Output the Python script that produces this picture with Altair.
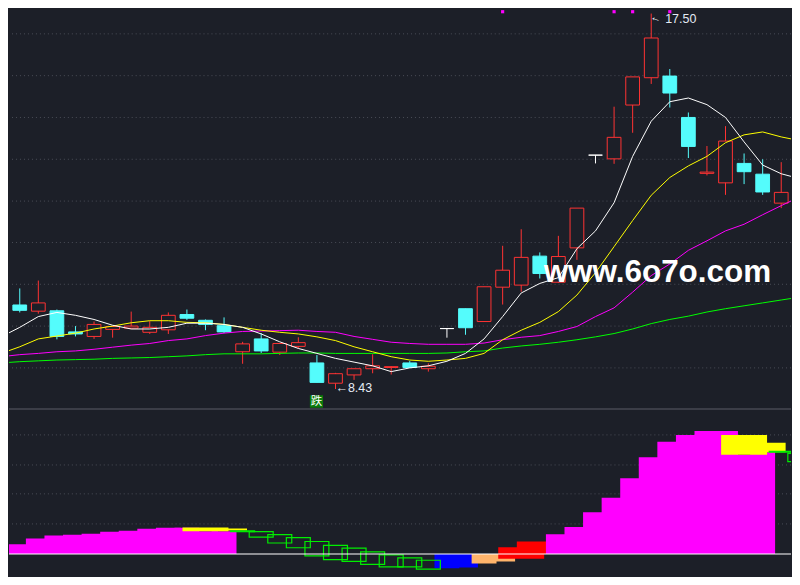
import altair as alt
import pandas as pd

# ---------------- colours ----------------
BG = "#1c1f28"
GRID = "#4a4d57"
SEP = "#464952"
UP = "#ff3333"
DOWN = "#54fcfc"
FLAT = "#ffffff"
C_MA5, C_MA10, C_MA20, C_MA60 = "#ffffff", "#ffff00", "#ff00ff", "#00ff00"
MAG, YEL, GRN, BLUE, ORANGE, RED = "#ff00ff", "#ffff00", "#00ee00", "#0000ff", "#ffb46b", "#ff0000"
LABEL = "#e4ebf5"

# ---------------- price data (candles) ----------------
idx = list(range(42))
open_ = [10.46, 10.31, 10.32, 9.81, 9.70, 9.87, 9.90, 9.80, 9.86, 10.23,
         10.09, 9.96, 9.33, 9.64, 9.32, 9.46, 9.06, 8.57, 8.77, 8.92,
         8.95, 9.06, 8.92, 9.89, 10.37, 10.06, 10.89, 10.94, 11.64, 11.01,
         11.84, 14.08, 13.99, 15.29, 15.95, 15.99, 14.99, 13.64, 13.41, 13.88,
         13.62, 12.92]
high = [10.86, 11.05, 10.35, 9.95, 10.06, 9.94, 10.30, 10.07, 10.28, 10.35,
        10.11, 10.16, 9.57, 9.78, 9.53, 9.68, 9.25, 8.82, 8.92, 9.27,
        8.98, 9.11, 9.05, 9.89, 10.37, 10.90, 11.89, 12.29, 11.73, 12.13,
        12.80, 14.08, 15.25, 15.97, 17.50, 16.16, 15.11, 14.30, 14.78, 14.12,
        13.98, 13.91]
low = [10.28, 10.25, 9.63, 9.70, 9.64, 9.67, 9.89, 9.76, 9.76, 10.10,
       9.85, 9.78, 9.04, 9.30, 9.25, 9.41, 8.59, 8.43, 8.65, 8.81,
       8.78, 8.95, 8.85, 9.67, 9.74, 10.06, 10.47, 10.78, 11.10, 10.99,
       11.55, 13.88, 13.87, 14.62, 15.80, 15.23, 14.01, 13.59, 13.12, 13.38,
       13.12, 12.80]
close = [10.33, 10.51, 9.70, 9.76, 9.99, 9.94, 9.95, 9.92, 10.21, 10.14,
         9.99, 9.81, 9.52, 9.35, 9.53, 9.55, 8.59, 8.80, 8.92, 8.99,
         8.97, 8.95, 8.98, 9.89, 9.91, 10.90, 11.30, 11.61, 11.22, 11.63,
         12.80, 14.08, 14.51, 15.97, 16.91, 15.58, 14.29, 13.67, 14.42, 13.68,
         13.19, 13.18]

# ---------------- moving averages (index -1 .. 42) ----------------
ma_idx = list(range(-1, 43))
ma5 = [9.69, 9.92, 10.18, 10.28, 10.21, 10.11, 9.97, 9.88, 9.88, 9.92, 10.02,
       10.02, 9.99, 9.92, 9.76, 9.57, 9.41, 9.29, 9.17, 9.08, 8.99, 8.85,
       8.94, 8.99, 9.10, 9.29, 9.64, 10.18, 10.75, 10.98, 11.12, 11.82,
       12.25, 12.93, 14.05, 14.90, 15.37, 15.46, 15.30, 14.99, 14.40, 13.84,
       13.63, 13.51]
ma10 = [9.29, 9.45, 9.64, 9.71, 9.78, 9.88, 9.95, 10.03, 10.08, 10.08, 10.04,
        10.03, 9.99, 9.92, 9.85, 9.80, 9.76, 9.69, 9.60, 9.45, 9.33, 9.21,
        9.13, 9.10, 9.13, 9.17, 9.29, 9.62, 9.85, 10.04, 10.30, 10.70,
        11.24, 11.87, 12.50, 13.11, 13.54, 13.82, 14.05, 14.38, 14.57, 14.64,
        14.52, 14.43]
ma20 = [9.21, 9.26, 9.29, 9.33, 9.35, 9.39, 9.44, 9.49, 9.53, 9.60, 9.64,
        9.72, 9.78, 9.82, 9.83, 9.84, 9.85, 9.82, 9.80, 9.70, 9.63, 9.56,
        9.53, 9.51, 9.51, 9.51, 9.54, 9.62, 9.68, 9.72, 9.82, 9.94,
        10.18, 10.39, 10.77, 11.17, 11.45, 11.78, 12.01, 12.25, 12.41, 12.64,
        12.86, 13.07]
ma60 = [9.06, 9.09, 9.11, 9.13, 9.14, 9.15, 9.17, 9.18, 9.19, 9.21, 9.23,
        9.26, 9.28, 9.28, 9.28, 9.29, 9.30, 9.30, 9.29, 9.29, 9.29, 9.29,
        9.29, 9.29, 9.30, 9.33, 9.35, 9.42, 9.47, 9.51, 9.56, 9.62,
        9.69, 9.77, 9.88, 10.01, 10.11, 10.19, 10.29, 10.37, 10.44, 10.51,
        10.58, 10.65]

grid_top = [17.01, 16.00, 14.99, 13.98, 12.97, 11.97, 10.96, 9.95, 8.94]
grid_bot = [1.01, 2.02, 2.99, 4.00]

# ---------------- lower indicator ----------------
mag_idx = [0, 1, 2, 3, 4, 5, 6, 7, 8, 9, 10, 11,
           29, 30, 31, 32, 33, 34, 35, 36, 37, 38, 39, 40]
mag_val = [0.33, 0.52, 0.62, 0.65, 0.68, 0.75, 0.78, 0.85, 0.88, 0.88, 0.76, 0.76,
           0.66, 0.91, 1.40, 1.89, 2.54, 3.25, 3.77, 4.00, 4.13, 4.13, 3.33, 3.42]
yel_idx = [10, 11, 39, 40]
yel_hi = [0.89, 0.86, 4.00, 3.74]
yel_lo = [0.76, 0.79, 3.33, 3.42]
box_idx = [12, 13, 14, 15, 16, 17, 18, 19, 20, 21, 22, 41, 42]
box_hi = [0.78, 0.75, 0.65, 0.55, 0.42, 0.29, 0.20, 0.07, -0.03, -0.13, -0.21, 3.45, 3.38]
box_lo = [0.75, 0.57, 0.37, 0.21, -0.06, -0.19, -0.25, -0.35, -0.43, -0.43, -0.51, 3.42, 3.10]
blue_idx = [23, 24]
blue_val = [-0.48, -0.45]
orange_idx = [25, 26]
orange_val = [-0.32, -0.25]
red_idx = [27, 28]
red_hi = [0.23, 0.42]
red_lo = [-0.16, 0.00]

signal_top_idx = [26, 32, 33, 35]
fall_idx = [16]
fall_text = ["跌"]
WATERMARK = "www.6o7o.com"

# ---------------- layout ----------------
W, HT, HB = 784, 402, 167
xs = alt.Scale(domain=[-0.579, 41.526], nice=False, zero=False)
ys_top = alt.Scale(domain=[7.930, 17.617], nice=False, zero=False)
ys_bot = alt.Scale(domain=[-0.748, 4.846], nice=False, zero=False)
KINDS = ["up", "down", "flat"]

candles = pd.DataFrame({"i": idx, "open": open_, "high": high, "low": low, "close": close})
candles["kind"] = ["up" if c > o else ("down" if c < o else "flat") for o, c in zip(open_, close)]

grid_t = alt.Chart(pd.DataFrame({"g": grid_top})).mark_rule(
    color=GRID, strokeDash=[1, 3], strokeWidth=1).encode(y=alt.Y("g:Q", scale=ys_top, axis=None))

wick = alt.Chart(candles).mark_rule(strokeWidth=1, clip=True).encode(
    x=alt.X("i:Q", scale=xs, axis=None),
    y=alt.Y("low:Q", scale=ys_top, axis=None), y2="high:Q",
    color=alt.Color("kind:N", scale=alt.Scale(domain=KINDS, range=[UP, DOWN, FLAT]), legend=None))

body = alt.Chart(candles).transform_calculate(
    x0="datum.i - 0.37", x1="datum.i + 0.37").mark_rect(strokeWidth=1, clip=True).encode(
    x=alt.X("x0:Q", scale=xs, axis=None), x2="x1:Q",
    y=alt.Y("open:Q", scale=ys_top, axis=None), y2="close:Q",
    fill=alt.Fill("kind:N", scale=alt.Scale(domain=KINDS, range=[BG, DOWN, FLAT]), legend=None),
    stroke=alt.Stroke("kind:N", scale=alt.Scale(domain=KINDS, range=[UP, DOWN, FLAT]), legend=None))

ma_layers = []
for arr, col in [(ma60, C_MA60), (ma20, C_MA20), (ma10, C_MA10), (ma5, C_MA5)]:
    d = pd.DataFrame({"i": ma_idx, "v": arr})
    ma_layers.append(alt.Chart(d).mark_line(strokeWidth=1, clip=True, color=col).encode(
        x=alt.X("i:Q", scale=xs, axis=None), y=alt.Y("v:Q", scale=ys_top, axis=None)))

lo_i = low.index(min(low))
hi_i = high.index(max(high))
lo_df = pd.DataFrame({"i": [lo_i], "p": [min(low)], "t": ["←" + f"{min(low):.2f}"]})
hi_df = pd.DataFrame({"i": [hi_i], "p": [max(high)], "t": [f"{max(high):.2f}"], "a": ["←"]})

lo_lab = alt.Chart(lo_df).mark_text(align="left", baseline="middle", dx=0, dy=-1,
                                    font="Liberation Sans", fontSize=12.5, color=LABEL).encode(
    x=alt.X("i:Q", scale=xs, axis=None), y=alt.Y("p:Q", scale=ys_top, axis=None), text="t:N")
hi_lab = alt.Chart(hi_df).mark_text(align="left", baseline="middle", dx=14, dy=5,
                                    font="Liberation Sans", fontSize=12.5, color=LABEL).encode(
    x=alt.X("i:Q", scale=xs, axis=None), y=alt.Y("p:Q", scale=ys_top, axis=None), text="t:N")
hi_arrow = alt.Chart(hi_df).mark_text(align="center", baseline="middle", dx=6, dy=3, angle=20,
                                      font="Liberation Sans", fontSize=11, color=LABEL).encode(
    x=alt.X("i:Q", scale=xs, axis=None), y=alt.Y("p:Q", scale=ys_top, axis=None), text="a:N")

sig = alt.Chart(pd.DataFrame({"i": signal_top_idx})).mark_square(size=10, color=MAG, opacity=1).encode(
    x=alt.X("i:Q", scale=xs, axis=None), y=alt.value(3))

fall_df = pd.DataFrame({"i": fall_idx, "t": fall_text})
fall_box = alt.Chart(fall_df).transform_calculate(
    x0="datum.i - 0.38", x1="datum.i + 0.33").mark_rect(color="#0b7a0b").encode(
    x=alt.X("x0:Q", scale=xs, axis=None), x2="x1:Q", y=alt.value(387.5), y2=alt.value(400))
fall_txt = alt.Chart(fall_df).mark_text(align="center", baseline="middle", dx=-0.5,
                                        font="Noto Sans CJK SC", fontSize=11.5, color="#ffffff").encode(
    x=alt.X("i:Q", scale=xs, axis=None), y=alt.value(394), text="t:N")

sep = alt.Chart(pd.DataFrame({"s": [0]})).mark_rule(color=SEP, strokeWidth=1.5).encode(
    x=alt.value(0), x2=alt.value(W), y=alt.value(HT - 0.75))

wm = alt.Chart(pd.DataFrame({"t": [WATERMARK]})).mark_text(
    align="left", baseline="alphabetic", font="Liberation Sans", fontWeight="bold",
    fontSize=31.5, color="#ffffff").encode(text="t:N", x=alt.value(536), y=alt.value(274))

top = alt.layer(grid_t, wick, body, *ma_layers, lo_lab, hi_arrow, hi_lab, sig,
                fall_box, fall_txt, sep, wm).properties(width=W, height=HT)


# ---------------- bottom panel ----------------
def rect_layer(df, half, y, y2, **mark):
    return alt.Chart(df).transform_calculate(
        x0=f"datum.i - {half}", x1=f"datum.i + {half}", zero="0").mark_rect(clip=True, **mark).encode(
        x=alt.X("x0:Q", scale=xs, axis=None), x2="x1:Q",
        y=alt.Y(f"{y}:Q", scale=ys_bot, axis=None), y2=f"{y2}:Q")


NARROW, WIDE, BOX = 0.67, 1.237, 0.645
grid_b = alt.Chart(pd.DataFrame({"g": grid_bot})).mark_rule(
    color=GRID, strokeDash=[1, 3], strokeWidth=1).encode(y=alt.Y("g:Q", scale=ys_bot, axis=None))
blue_l = rect_layer(pd.DataFrame({"i": blue_idx, "v": blue_val}), NARROW, "v", "zero", color=BLUE)
orange_l = rect_layer(pd.DataFrame({"i": orange_idx, "v": orange_val}), NARROW, "v", "zero", color=ORANGE)
red_l = rect_layer(pd.DataFrame({"i": red_idx, "hi": red_hi, "lo": red_lo}), WIDE, "hi", "lo", color=RED)
mag_l = rect_layer(pd.DataFrame({"i": mag_idx, "v": mag_val}), NARROW, "v", "zero", color=MAG)
yel_l = rect_layer(pd.DataFrame({"i": yel_idx, "hi": yel_hi, "lo": yel_lo}), WIDE, "hi", "lo", color=YEL)
box_l = rect_layer(pd.DataFrame({"i": box_idx, "hi": box_hi, "lo": box_lo}), BOX, "hi", "lo",
                   fill="transparent", stroke=GRN, strokeWidth=1.2)
base_l = alt.Chart(pd.DataFrame({"z": [0]})).mark_rule(color="#ffffff", strokeWidth=1.2).encode(
    y=alt.Y("z:Q", scale=ys_bot, axis=None))

bottom = alt.layer(grid_b, blue_l, orange_l, red_l, mag_l, yel_l, box_l, base_l).properties(width=W, height=HB)

chart = alt.vconcat(top, bottom, spacing=0).resolve_scale(
    x="independent", y="independent").properties(background=BG, padding=0).configure_view(strokeWidth=0)

chart.save("out.html", embed_options={"renderer": "svg", "actions": False})
